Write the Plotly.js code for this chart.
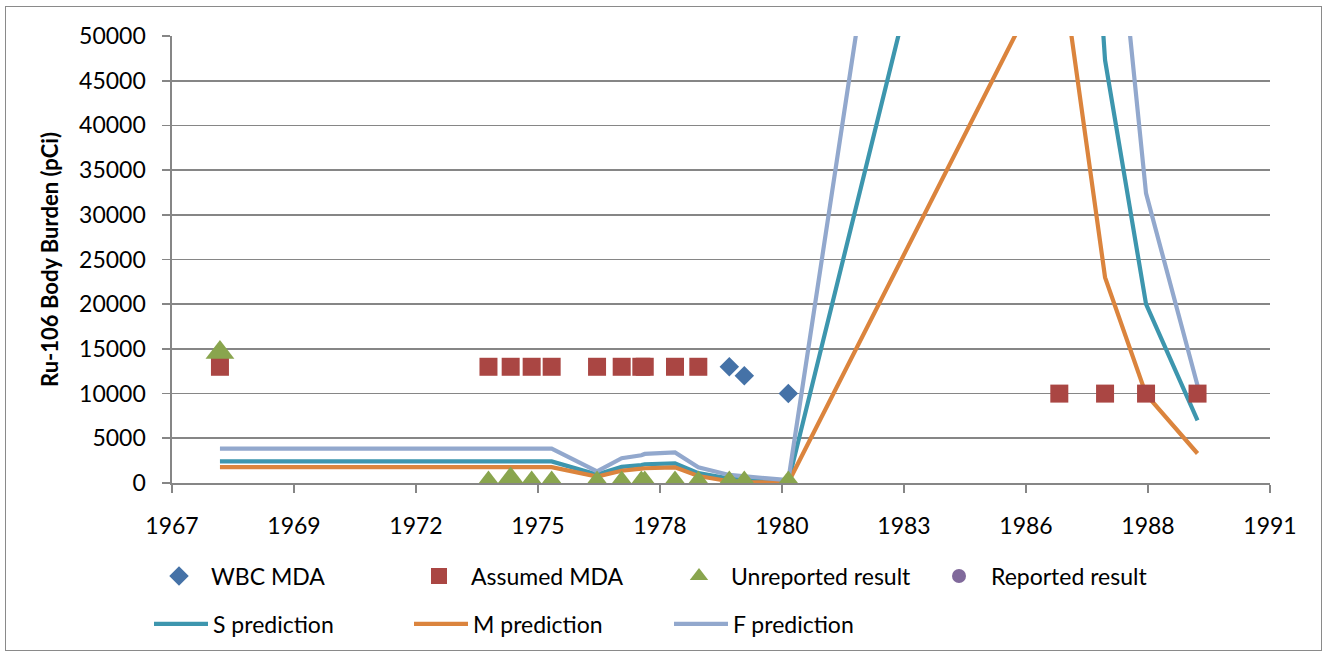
<!DOCTYPE html>
<html><head><meta charset="utf-8">
<script src="https://cdn.plot.ly/plotly-3.0.1.min.js"></script>
<style>
html,body{margin:0;padding:0;background:#fff;}
#wrap{position:relative;width:1327px;height:656px;}
#chart{width:1327px;height:656px;}
#frame{position:absolute;left:5px;top:6px;width:1317px;height:645px;border:1px solid #8a8a8a;box-sizing:border-box;pointer-events:none;}
</style></head><body>
<div id="wrap"><div id="chart"></div><div id="frame"></div></div>
<script>
// x-axis ticks (Excel date axis, 1000-day major unit)
const tickDates = ['1967-01-28','1969-10-24','1972-07-20','1975-04-16','1978-01-10','1980-10-06','1983-07-03','1986-03-29','1988-12-23','1991-09-19'];
const tickLabels = ['1967','1969','1972','1975','1978','1980','1983','1986','1988','1991'];
const yTicks = [0,5000,10000,15000,20000,25000,30000,35000,40000,45000,50000];

// WBC MDA
const wbcDates = ['1979-08-01','1979-12-02','1980-11-27'];
const wbcValues = [13000,12000,10000];

// Assumed MDA
const assumedDates = ['1968-02-25','1974-03-06','1974-09-04','1975-02-23','1975-08-06','1976-08-12','1977-03-02','1977-08-10','1977-09-07','1978-05-13','1978-11-20','1986-12-27','1988-01-06','1988-12-07','1990-02-02'];
const assumedValues = [13000,13000,13000,13000,13000,13000,13000,13000,13000,13000,13000,10000,10000,10000,10000];

// Unreported result
const unrepDates = ['1968-02-25','1974-03-06','1974-09-04','1975-02-23','1975-08-06','1976-08-12','1977-03-02','1977-08-10','1977-09-07','1978-05-13','1978-11-20','1979-08-01','1979-12-02','1980-11-27'];
const unrepValues = [14600,0,450,0,0,0,0,0,0,0,0,0,0,0];

// Reported result (no points shown)
const repDates = [null];
const repValues = [null];

// Predictions
const predDates = ['1968-02-25','1974-03-06','1974-09-04','1975-02-23','1975-08-06','1976-08-12','1977-03-02','1977-08-10','1977-09-07','1978-05-13','1978-11-20','1979-08-01','1979-12-02','1980-11-27','1986-12-27','1988-01-06','1988-12-07','1990-02-02'];
const sPred = [2420,2420,2420,2420,2420,950,1800,2000,2100,2200,1100,500,350,150,123000,47300,20000,7000];
const mPred = [1770,1770,1770,1770,1770,720,1370,1600,1650,1750,780,200,100,50,59800,23000,9900,3300];
const fPred = [3850,3850,3850,3850,3850,1300,2770,3100,3250,3420,1750,900,750,320,200000,77700,32400,10900];

const FONT = 'Lato, "Open Sans", sans-serif';

const traces = [
  {name:'S prediction', x:predDates, y:sPred, type:'scatter', mode:'lines', line:{color:'#3D96AE', width:4.2}, legend:'legend2'},
  {name:'M prediction', x:predDates, y:mPred, type:'scatter', mode:'lines', line:{color:'#DB843D', width:4.2}, legend:'legend2'},
  {name:'F prediction', x:predDates, y:fPred, type:'scatter', mode:'lines', line:{color:'#92A8CD', width:4.2}, legend:'legend2'},
  {name:'WBC MDA', x:wbcDates, y:wbcValues, type:'scatter', mode:'markers', marker:{symbol:'diamond', size:15, color:'#4572A7'}, legend:'legend'},
  {name:'Assumed MDA', x:assumedDates, y:assumedValues, type:'scatter', mode:'markers', marker:{symbol:'square', size:18, color:'#AA4643'}, legend:'legend'},
  {name:'Unreported result', x:unrepDates, y:unrepValues, type:'scatter', mode:'markers', marker:{symbol:'triangle-up', size:25, color:'#89A54E'}, legend:'legend'},
  {name:'Reported result', x:repDates, y:repValues, type:'scatter', mode:'markers', marker:{symbol:'circle', size:14, color:'#80699B'}, legend:'legend'}
];

const layout = {
  width:1327, height:656,
  margin:{l:172, r:57, t:36, b:172, pad:0},
  paper_bgcolor:'#fff', plot_bgcolor:'#fff',
  font:{family:FONT, size:23, color:'#000'},
  showlegend:true,
  xaxis:{
    type:'date', range:[tickDates[0], tickDates[tickDates.length-1]],
    tickmode:'array', tickvals:tickDates, ticktext:tickLabels,
    showgrid:false, zeroline:false, showline:true, linecolor:'#868686', linewidth:1.6,
    ticks:'outside', ticklen:8, tickwidth:1.6, tickcolor:'#868686',
    ticklabelstandoff:14, tickfont:{family:FONT, size:23, color:'#000'}
  },
  yaxis:{
    range:[0,50000], tickmode:'array', tickvals:yTicks, ticktext:yTicks.map(String),
    showgrid:true, gridcolor:'#868686', gridwidth:1.6, zeroline:false,
    showline:true, linecolor:'#868686', linewidth:1.6,
    ticks:'outside', ticklen:8, tickwidth:1.6, tickcolor:'#868686',
    ticklabelstandoff:12, tickfont:{family:FONT, size:23, color:'#000'},
    title:{text:'<b>Ru-106 Body Burden (pCi)</b>', font:{family:FONT, size:22, color:'#000'}, standoff:14}
  },
  legend:{orientation:'h', x:(147-172)/1098, xanchor:'left', y:(484-576)/448, yanchor:'middle',
    entrywidth:191, entrywidthmode:'pixels', itemwidth:54, bgcolor:'rgba(0,0,0,0)',
    font:{family:FONT, size:23, color:'#000'}},
  legend2:{orientation:'h', x:(149-172)/1098, xanchor:'left', y:(484-624)/448, yanchor:'middle',
    entrywidth:191, entrywidthmode:'pixels', itemwidth:54, bgcolor:'rgba(0,0,0,0)',
    font:{family:FONT, size:23, color:'#000'}}
};

Plotly.newPlot('chart', traces, layout, {displayModeBar:false, staticPlot:true});
</script>
</body></html>
